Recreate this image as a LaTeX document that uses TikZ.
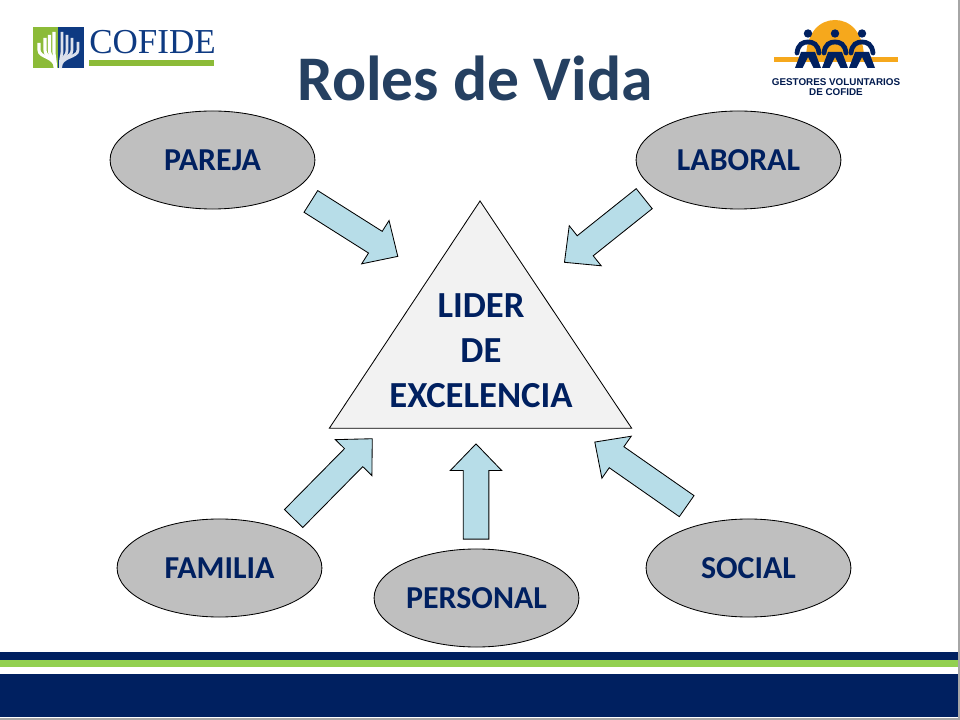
\documentclass[tikz,border=0pt]{standalone}
\usepackage{fontspec}
\setmainfont{Carlito}
\newfontfamily\logoserif{Liberation Serif}
\newfontfamily\logosans{Liberation Sans}
\usetikzlibrary{shapes.geometric,shapes.arrows}
\definecolor{navy}{HTML}{002060}
\definecolor{titleblue}{HTML}{254061}
\definecolor{rolegray}{HTML}{BFBFBF}
\definecolor{arrowblue}{HTML}{B7DDE8}
\definecolor{logogreen}{HTML}{8CBB38}
\definecolor{logoblue}{HTML}{0E3A82}
\definecolor{bargreen}{HTML}{92D050}
\definecolor{sunorange}{HTML}{F6A81C}
\tikzset{
  role/.style={ellipse,draw=black,line width=.6pt,fill=rolegray,minimum width=5.12cm,minimum height=2.45cm,inner sep=0pt,text=navy,font=\fontsize{22.7}{26}\selectfont\bfseries},
  rolearrow/.style={single arrow,draw=black,line width=.6pt,fill=arrowblue,anchor=tip,inner xsep=0pt,inner ysep=.31cm,single arrow head extend=.32cm,single arrow tip angle=88},
  band/.style={fill=#1,draw=none},
}
\begin{document}
\begin{tikzpicture}[x=0.025cm,y=-0.025cm]
\useasboundingbox (0,0) rectangle (960,720);
% title
\node[text=titleblue,font=\fontsize{45.2}{54}\selectfont\bfseries] (title) at (475,78) {Roles de Vida};
% bands
\fill[band=navy] (0,652) rectangle (958,659.5);
\fill[band=bargreen] (0,660) rectangle (958,667);
\fill[band=navy] (0,674) rectangle (958,717);
\fill[band=gray!70] (958,0) rectangle (960,720);
\fill[band=gray!70] (0,718) rectangle (960,720);
% left logo
\fill[band=logogreen] (33,27) rectangle (58,68);
\fill[band=logoblue] (58,27) rectangle (84,68);
\foreach \x/\t in {39/43,45/38,49.5/35,54/32}
  \draw[white,line width=2.2pt] (\x,\t) -- (\x,50) .. controls (\x,58) and (55,56) .. (55.5,68);
\foreach \x/\t in {62/32,67/35,72/38,78/42}
  \draw[white!85!logoblue,line width=2pt] (\x,\t) -- (\x,50) .. controls (\x,58) and (60,56) .. (60.5,68);
\node[text=logoblue,font=\fontsize{24.9}{30}\selectfont\logoserif,inner sep=0pt,anchor=base west] (cofide) at (89,54) {COFIDE};
\fill[band=logogreen] (89,60.5) rectangle (214,66.5);
% right logo
\fill[band=sunorange] (806,59) .. controls (806,32) and (820,20) .. (835,20) .. controls (850,20) and (864,32) .. (864,59) -- cycle;
\fill[band=sunorange] (774,57) rectangle (898,62);
\foreach \x in {808,835,862} {
  \fill[navy] (\x,33.5) circle (4.2);
  \draw[navy,line width=3.4pt,line cap=round] (\x-11,53) .. controls (\x-10,44) and (\x-5,42) .. (\x,42) .. controls (\x+5,42) and (\x+10,44) .. (\x+11,53);
  \fill[navy] (\x-7,52) -- (\x+7,52) -- (\x+13,68) -- (\x+5.5,68) -- (\x,57) -- (\x-5.5,68) -- (\x-13,68) -- cycle;
}
\node[text=navy!80!black,align=center,font=\fontsize{7}{7.2}\selectfont\logosans\bfseries,inner sep=0pt] (gestores) at (836,87) {GESTORES VOLUNTARIOS\\DE COFIDE};
% triangle
\draw[black,line width=.6pt,fill=black!5] (480,201) -- (631.7,428.3) -- (329.3,428.3) -- cycle;
\node[text=navy,align=center,font=\fontsize{26.1}{32}\selectfont\bfseries] (lider) at (481,350.5) {LIDER\\DE\\EXCELENCIA};
% roles
\node[role] (pareja) at (212.5,160) {PAREJA};
\node[role] (laboral) at (738.5,160) {LABORAL};
\node[role] (familia) at (219.5,568) {FAMILIA};
\node[role] (personal) at (476.5,598) {PERSONAL};
\node[role] (social) at (748.5,568) {SOCIAL};
% arrows
\node[rolearrow,minimum height=2.57cm,rotate=-32.3] (toppareja) at (398.3,256.7) {};
\node[rolearrow,minimum height=2.55cm,rotate=-141.4] (toplaboral) at (564,262.7) {};
\node[rolearrow,minimum height=2.8cm,rotate=45.4] (topfamilia) at (372.7,438.3) {};
\node[rolearrow,minimum height=2.38cm,rotate=90] (toppersonal) at (476,443.3) {};
\node[rolearrow,minimum height=2.8cm,rotate=145.1] (topsocial) at (594.3,441.7) {};
\end{tikzpicture}
\end{document}
